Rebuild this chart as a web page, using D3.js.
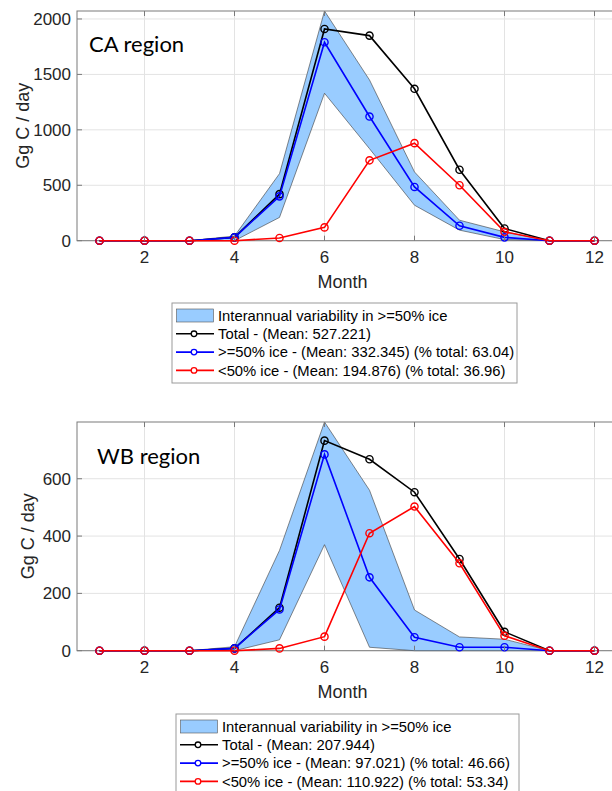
<!DOCTYPE html>
<html><head><meta charset="utf-8">
<script src="https://cdn.jsdelivr.net/npm/d3@7"></script>
<style>
body{margin:0;background:#fff;}
svg{display:block;}
</style></head>
<body>
<svg id="chart" width="612" height="791"></svg>
<script>
const months = [1,2,3,4,5,6,7,8,9,10,11,12];
const xTicks = [2,4,6,8,10,12];

// CA region
const caTotal = [0,0,0,30,420,1910,1850,1370,640,110,0,0];
const caIce   = [0,0,0,30,400,1790,1120,485,135,30,0,0];
const caOpen  = [0,0,0,0,25,120,725,880,500,80,0,0];
const caBandHi = [0,0,0,42,605,2072,1450,620,185,80,0,0];
const caBandLo = [0,0,0,0,210,1330,830,320,95,10,0,0];
const caYTicks = [0,500,1000,1500,2000];
const caYMax = 2072;
const caLegend = ["Interannual variability in >=50% ice",
  "Total - (Mean: 527.221)",
  ">=50% ice - (Mean: 332.345) (% total: 63.04)",
  "<50% ice - (Mean: 194.876) (% total: 36.96)"];

// WB region
const wbTotal = [0,0,0,8,150,733,668,553,320,66,0,0];
const wbIce   = [0,0,0,8,144,685,256,47,12,12,0,0];
const wbOpen  = [0,0,0,0,8,49,410,503,305,52,0,0];
const wbBandHi = [0,0,0,14,350,798,560,142,48,40,0,0];
const wbBandLo = [0,0,0,0,38,370,12,0,0,0,0,0];
const wbYTicks = [0,200,400,600];
const wbYMax = 798;
const wbLegend = ["Interannual variability in >=50% ice",
  "Total - (Mean: 207.944)",
  ">=50% ice - (Mean: 97.021) (% total: 46.66)",
  "<50% ice - (Mean: 110.922) (% total: 53.34)"];

const svg = d3.select("#chart");
const FONT = "'Liberation Sans', Arial, Helvetica, sans-serif";
const BAND_FILL = "#99ccff";
const AXIS_COL = "#7a7a7a";
const GRID_COL = "#e3e3e3";

function panel(o) {
  const {top, bottom, left, right, total, ice, open, hi, lo, yTicks, yMax, title, titleX, titleY,
         yLabelX, legend, legX, legY, legW, legH} = o;
  const g = svg.append("g");
  const x = d3.scaleLinear().domain([0.5, 12.5]).range([left, right]);
  const y = d3.scaleLinear().domain([0, yMax]).range([bottom, top]);

  // grid
  g.append("g").selectAll("line").data(xTicks).join("line")
    .attr("x1", d => x(d)).attr("x2", d => x(d)).attr("y1", top).attr("y2", bottom)
    .attr("stroke", GRID_COL).attr("stroke-width", 1);
  g.append("g").selectAll("line").data(yTicks).join("line")
    .attr("y1", d => y(d)).attr("y2", d => y(d)).attr("x1", left).attr("x2", right)
    .attr("stroke", GRID_COL).attr("stroke-width", 1);

  // axes box
  g.append("rect").attr("x", left).attr("y", top).attr("width", right - left).attr("height", bottom - top)
    .attr("fill", "none").attr("stroke", AXIS_COL).attr("stroke-width", 1);

  const plot = g.append("g");
  // band
  const area = d3.area().x((d, i) => x(months[i])).y0((d, i) => y(lo[i])).y1(d => y(d));
  plot.append("path").datum(hi).attr("d", area)
    .attr("fill", BAND_FILL).attr("stroke", "#3a3a3a").attr("stroke-width", 0.6)
    .attr("stroke-linejoin", "miter");

  const line = d3.line().x((d, i) => x(months[i])).y(d => y(d));
  [[total, "#000000"], [ice, "#0000ff"], [open, "#ff0000"]].forEach(([arr, col]) => {
    plot.append("path").datum(arr).attr("d", line).attr("fill", "none")
      .attr("stroke", col).attr("stroke-width", 1.6);
    plot.append("g").selectAll("circle").data(arr).join("circle")
      .attr("cx", (d, i) => x(months[i])).attr("cy", d => y(d)).attr("r", 3.6)
      .attr("fill", "none").attr("stroke", col).attr("stroke-width", 1.4);
  });

  // ticks inward
  const tl = 5;
  g.append("g").selectAll("line").data(xTicks).join("line")
    .attr("x1", d => x(d)).attr("x2", d => x(d)).attr("y1", bottom).attr("y2", bottom - tl)
    .attr("stroke", AXIS_COL);
  g.append("g").selectAll("line").data(xTicks).join("line")
    .attr("x1", d => x(d)).attr("x2", d => x(d)).attr("y1", top).attr("y2", top + tl)
    .attr("stroke", AXIS_COL);
  g.append("g").selectAll("line").data(yTicks).join("line")
    .attr("y1", d => y(d)).attr("y2", d => y(d)).attr("x1", left).attr("x2", left + tl)
    .attr("stroke", AXIS_COL);
  g.append("g").selectAll("line").data(yTicks).join("line")
    .attr("y1", d => y(d)).attr("y2", d => y(d)).attr("x1", right).attr("x2", right - tl)
    .attr("stroke", AXIS_COL);

  // tick labels
  g.append("g").selectAll("text").data(xTicks).join("text")
    .attr("x", d => x(d)).attr("y", bottom + 22).attr("text-anchor", "middle")
    .attr("font-family", FONT).attr("font-size", 17).attr("fill", "#262626")
    .text(d => d);
  g.append("g").selectAll("text").data(yTicks).join("text")
    .attr("x", left - 6).attr("y", d => y(d) + 6).attr("text-anchor", "end")
    .attr("font-family", FONT).attr("font-size", 17).attr("fill", "#262626")
    .text(d => d);

  // axis labels
  g.append("text").attr("x", (left + 608) / 2).attr("y", bottom + 47)
    .attr("text-anchor", "middle").attr("font-family", FONT).attr("font-size", 18)
    .attr("fill", "#262626").text("Month");
  g.append("text").attr("transform", `translate(${yLabelX},${(top + bottom) / 2}) rotate(-90)`)
    .attr("text-anchor", "middle").attr("font-family", FONT).attr("font-size", 18)
    .attr("fill", "#262626").text("Gg C / day");

  // region title
  g.append("text").attr("x", titleX).attr("y", titleY)
    .attr("font-family", "Lato, 'Open Sans', sans-serif").attr("font-size", 22)
    .attr("fill", "#000").text(title);

  // legend
  const lg = g.append("g");
  lg.append("rect").attr("x", legX).attr("y", legY).attr("width", legW).attr("height", legH)
    .attr("fill", "#fff").attr("stroke", "#9a9a9a").attr("stroke-width", 1);
  const rowH = 18.3;
  const r0 = legY + 12.5;
  lg.append("rect").attr("x", legX + 4.5).attr("y", r0 - 6.5).attr("width", 37).attr("height", 13)
    .attr("fill", BAND_FILL).attr("stroke", "#555").attr("stroke-width", 0.6);
  const cols = [null, "#000000", "#0000ff", "#ff0000"];
  legend.forEach((t, i) => {
    const cy = r0 + i * rowH;
    if (i > 0) {
      lg.append("line").attr("x1", legX + 4).attr("x2", legX + 42).attr("y1", cy).attr("y2", cy)
        .attr("stroke", cols[i]).attr("stroke-width", 1.6);
      lg.append("circle").attr("cx", legX + 22).attr("cy", cy).attr("r", 2.8)
        .attr("fill", "#fff").attr("stroke", cols[i]).attr("stroke-width", 1.3);
    }
    lg.append("text").attr("x", legX + 46).attr("y", cy + 5.2)
      .attr("font-family", FONT).attr("font-size", 14.8).attr("fill", "#000").text(t);
  });
}

panel({top: 11, bottom: 240.7, left: 77, right: 617, total: caTotal, ice: caIce, open: caOpen,
  hi: caBandHi, lo: caBandLo, yTicks: caYTicks, yMax: caYMax, title: "CA region", titleX: 89, titleY: 52,
  yLabelX: 29, legend: caLegend, legX: 172, legY: 303, legW: 345, legH: 80});
panel({top: 422, bottom: 650.7, left: 77, right: 617, total: wbTotal, ice: wbIce, open: wbOpen,
  hi: wbBandHi, lo: wbBandLo, yTicks: wbYTicks, yMax: wbYMax, title: "WB region", titleX: 97, titleY: 464,
  yLabelX: 34, legend: wbLegend, legX: 176, legY: 714, legW: 343, legH: 85});
</script>
</body></html>
